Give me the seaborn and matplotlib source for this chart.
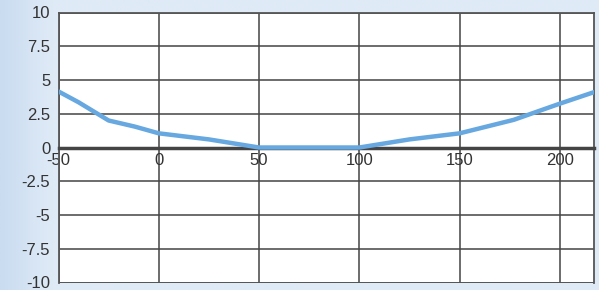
import numpy as np
import matplotlib
matplotlib.use('Agg')
import matplotlib.pyplot as plt
import pandas as pd
import seaborn as sns

# data
x_vals = [-50, -40, -25, -12, 0, 25, 50, 75, 100, 125, 150, 177, 200, 217]
y_vals = [4.15, 3.35, 2.0, 1.55, 1.05, 0.6, 0.0, 0.0, 0.0, 0.6, 1.05, 2.05, 3.25, 4.1]
x_ticks = [-50, 0, 50, 100, 150, 200]
y_ticks = [-10, -7.5, -5, -2.5, 0, 2.5, 5, 7.5, 10]
y_labels = ['-10', '-7.5', '-5', '-2.5', '0', '2.5', '5', '7.5', '10']

df = pd.DataFrame({'x': x_vals, 'y': y_vals})

sns.set_style('white')
plt.rcParams['font.family'] = ['Liberation Sans', 'DejaVu Sans']
plt.rcParams['axes.unicode_minus'] = False

fig = plt.figure(figsize=(5.99, 2.90), dpi=100)

# light blue background with a slightly darker left edge
bg = fig.add_axes([0, 0, 1, 1], zorder=-10)
grad = np.linspace(0, 1, 256)
grad = np.clip(grad * 12, 0, 1)[None, :]
cmap = matplotlib.colors.LinearSegmentedColormap.from_list('bg', ['#c9dcf0', '#dfeaf7'])
bg.imshow(grad, aspect='auto', cmap=cmap, extent=[0, 1, 0, 1])
bg.axis('off')

ax = fig.add_axes([58.5/599, 7.5/290, 535.5/599, 270/290])
ax.set_facecolor('white')

sns.lineplot(data=df, x='x', y='y', ax=ax, color='#66a8df', linewidth=3.2, zorder=5)

ax.set_xlim(-50, 217)
ax.set_ylim(-10, 10)
ax.set_xticks(x_ticks)
ax.set_xticklabels([str(t) for t in x_ticks])
ax.set_yticks(y_ticks)
ax.set_yticklabels(y_labels)
ax.grid(True, color='#444444', linewidth=1.1)
ax.set_xlabel('')
ax.set_ylabel('')

for s in ['left', 'right', 'top']:
    ax.spines[s].set_color('#555555')
    ax.spines[s].set_linewidth(1.3)
ax.spines['bottom'].set_position(('data', 0))
ax.spines['bottom'].set_color('#444444')
ax.spines['bottom'].set_linewidth(2.5)
ax.axhline(-10, color='#555555', linewidth=2)

ax.tick_params(axis='both', length=0, labelsize=12, colors='#333333')
ax.tick_params(axis='x', pad=4)
ax.tick_params(axis='y', pad=6)

fig.savefig('out.png', dpi=100)
